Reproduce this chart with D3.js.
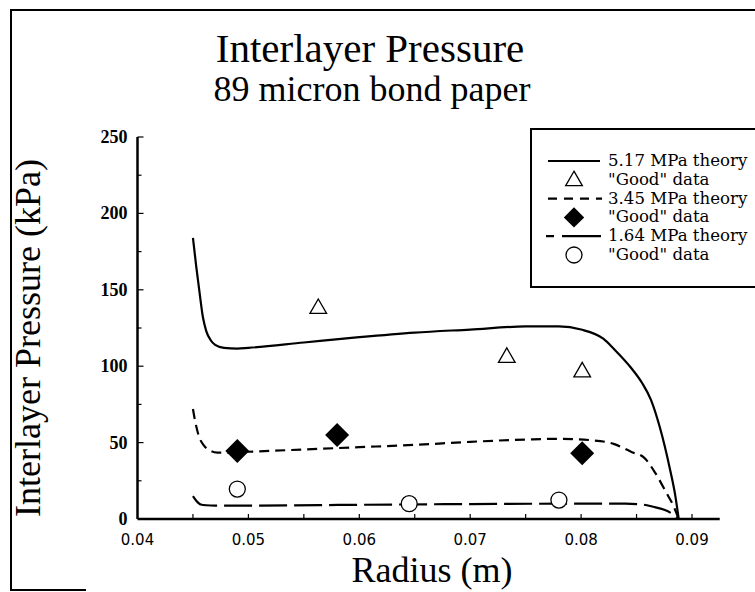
<!DOCTYPE html>
<html>
<head>
<meta charset="utf-8">
<script src="https://cdn.jsdelivr.net/npm/d3@7"></script>
<style>
  body { margin: 0; background: #fff; }
  svg { display: block; }
</style>
</head>
<body>
<script>
// values
var theory517X = [0.0450,0.0453,0.0456,0.0459,0.0462,0.0466,0.0470,0.0478,0.0490,0.0500,0.0550,0.0600,0.0650,0.0700,0.0750,0.0780,0.0800,0.0820,0.0830,0.0845,0.0855,0.0863,0.0871,0.0880,0.0885,0.0888];
var theory517Y = [184,165,148,132,123,117,114,112,111.5,112,115.5,119,122,124,126,126,124,118,111,99,89,78,60,33,15,0];

var theory345X = [0.0450,0.0452,0.0455,0.0460,0.0465,0.0472,0.0480,0.0500,0.0550,0.0600,0.0650,0.0700,0.0750,0.0780,0.0810,0.0830,0.0845,0.0857,0.0867,0.0877,0.0883,0.0888];
var theory345Y = [72,64,55,48,45,43.5,43.5,44,45.5,47,48.5,50.5,52,52.5,51.5,49,44,40,30,17,9,0];

var theory164X = [0.0450,0.0453,0.0457,0.0462,0.0470,0.0500,0.0600,0.0700,0.0780,0.0840,0.0855,0.0865,0.0875,0.0883,0.0888];
var theory164Y = [15,12,9.5,9,8.8,8.8,9.3,9.8,10,10,9.5,8,6,3,0];

var good517X = [0.0563,0.0733,0.0801];
var good517Y = [139,107,97.5];
var good345X = [0.0490,0.0580,0.0801];
var good345Y = [44.5,55,43];
var good164X = [0.0490,0.0645,0.0780];
var good164Y = [19.6,10,12.4];

var xTicks = [0.04,0.05,0.06,0.07,0.08,0.09];
var xTickLabels = ["0.04","0.05","0.06","0.07","0.08","0.09"];
var yTicks = [0,50,100,150,200,250];
var legendLabels = ["5.17 MPa theory",'"Good" data',"3.45 MPa theory",'"Good" data',"1.64 MPa theory",'"Good" data'];

var W = 755, H = 592;
var svg = d3.select("body").append("svg").attr("width", W).attr("height", H);

// outer frame of the scanned figure
svg.append("path")
  .attr("d", "M755,10 L11,10 L11,590 L86,590")
  .attr("fill", "none").attr("stroke", "#000").attr("stroke-width", 2);

var x = d3.scaleLinear().domain([0.04, 0.09]).range([137.5, 692]);
var y = d3.scaleLinear().domain([0, 250]).range([519, 137]);
var serif = "'Liberation Serif', 'Times New Roman', serif";
var wide = "'DejaVu Serif', serif";

// titles
svg.append("text").attr("x", 370).attr("y", 62).attr("text-anchor", "middle")
  .style("font-family", serif).style("font-size", "41px").text("Interlayer Pressure");
svg.append("text").attr("x", 372).attr("y", 101).attr("text-anchor", "middle")
  .style("font-family", serif).style("font-size", "36px").text("89 micron bond paper");

// axes
var gx = svg.append("g").attr("transform", "translate(0," + y(0) + ")");
gx.append("line").attr("x1", x(0.04)).attr("x2", x(0.0925)).attr("stroke", "#000").attr("stroke-width", 2.5);
gx.selectAll(".minor").data(d3.range(0.045, 0.0921, 0.005)).enter().append("line")
  .attr("x1", function(d){ return x(d); }).attr("x2", function(d){ return x(d); })
  .attr("y1", 0).attr("y2", -5).attr("stroke", "#000").attr("stroke-width", 1.2);
gx.selectAll(".lbl").data(xTicks).enter().append("text")
  .attr("x", function(d){ return x(d); }).attr("y", 26).attr("text-anchor", "middle")
  .style("font-family", "'DejaVu Sans', sans-serif").style("font-size", "15px")
  .text(function(d, i){ return xTickLabels[i]; });

var gy = svg.append("g").attr("transform", "translate(" + x(0.04) + ",0)");
gy.append("line").attr("y1", y(0)).attr("y2", y(250)).attr("stroke", "#000").attr("stroke-width", 2.5);
gy.selectAll(".minor").data(d3.range(25, 251, 25)).enter().append("line")
  .attr("y1", function(d){ return y(d); }).attr("y2", function(d){ return y(d); })
  .attr("x1", 0).attr("x2", function(d){ return d % 50 === 0 ? 6 : 4; })
  .attr("stroke", "#000").attr("stroke-width", 1.2);
gy.selectAll(".lbl").data(yTicks).enter().append("text")
  .attr("x", -10).attr("y", function(d){ return y(d) + 6; }).attr("text-anchor", "end")
  .style("font-family", serif).style("font-size", "18px").style("font-weight", "bold")
  .text(function(d){ return d; });

svg.append("text").attr("x", 432).attr("y", 582).attr("text-anchor", "middle")
  .style("font-family", serif).style("font-size", "36px").text("Radius (m)");
svg.append("text").attr("transform", "translate(40,338) rotate(-90)").attr("text-anchor", "middle")
  .style("font-family", serif).style("font-size", "36px").text("Interlayer Pressure (kPa)");

// theory curves
var line = d3.line().x(function(d){ return x(d[0]); }).y(function(d){ return y(d[1]); }).curve(d3.curveMonotoneX);
function drawCurve(xs, ys, dash) {
  svg.append("path").datum(d3.zip(xs, ys)).attr("d", line)
    .attr("fill", "none").attr("stroke", "#000").attr("stroke-width", 2.2)
    .attr("stroke-dasharray", dash);
}
drawCurve(theory517X, theory517Y, null);
drawCurve(theory345X, theory345Y, "10,6");
drawCurve(theory164X, theory164Y, "28,7");

// markers
var triangle = d3.symbol().type(d3.symbolTriangle).size(120);
function drawTriangle(g) { g.append("path").attr("d", triangle).attr("fill", "#fff").attr("stroke", "#000").attr("stroke-width", 1.3); }
function drawDiamond(g) {
  g.append("path").attr("d", "M0,-12 L12,0 L0,12 L-12,0 Z").attr("fill", "#000");
}
function drawCircle(g) { g.append("circle").attr("r", 8).attr("fill", "#fff").attr("stroke", "#000").attr("stroke-width", 1.3); }

d3.zip(good517X, good517Y).forEach(function(d){
  drawTriangle(svg.append("g").attr("transform", "translate(" + x(d[0]) + "," + (y(d[1]) + 2) + ")"));
});
d3.zip(good345X, good345Y).forEach(function(d){
  drawDiamond(svg.append("g").attr("transform", "translate(" + x(d[0]) + "," + y(d[1]) + ")"));
});
d3.zip(good164X, good164Y).forEach(function(d){
  drawCircle(svg.append("g").attr("transform", "translate(" + x(d[0]) + "," + y(d[1]) + ")"));
});

// legend
var lg = svg.append("g");
lg.append("path").attr("d", "M757,129 L531,129 L531,287 L757,287")
  .attr("fill", "none").attr("stroke", "#000").attr("stroke-width", 2);
var rowY = d3.range(6).map(function(i){ return 161 + i * 18.8; });
legendLabels.forEach(function(t, i){
  var ry = rowY[i], cx = 574;
  if (i === 0) lg.append("line").attr("x1", 548).attr("x2", 600).attr("y1", ry).attr("y2", ry).attr("stroke", "#000").attr("stroke-width", 2.2);
  if (i === 2) lg.append("line").attr("x1", 548).attr("x2", 602).attr("y1", ry).attr("y2", ry).attr("stroke", "#000").attr("stroke-width", 2.2).attr("stroke-dasharray", "9,7");
  if (i === 4) lg.append("line").attr("x1", 546).attr("x2", 601).attr("y1", ry).attr("y2", ry).attr("stroke", "#000").attr("stroke-width", 2.2).attr("stroke-dasharray", "8,8,40");
  if (i === 1) drawTriangle(lg.append("g").attr("transform", "translate(" + cx + "," + (ry + 1) + ")"));
  if (i === 3) drawDiamond(lg.append("g").attr("transform", "translate(" + cx + "," + ry + ") scale(0.85)"));
  if (i === 5) drawCircle(lg.append("g").attr("transform", "translate(" + cx + "," + ry + ")"));
  lg.append("text").attr("x", 608).attr("y", ry + 5)
    .style("font-family", wide).style("font-size", "16.6px").text(t);
});
</script>
</body>
</html>
